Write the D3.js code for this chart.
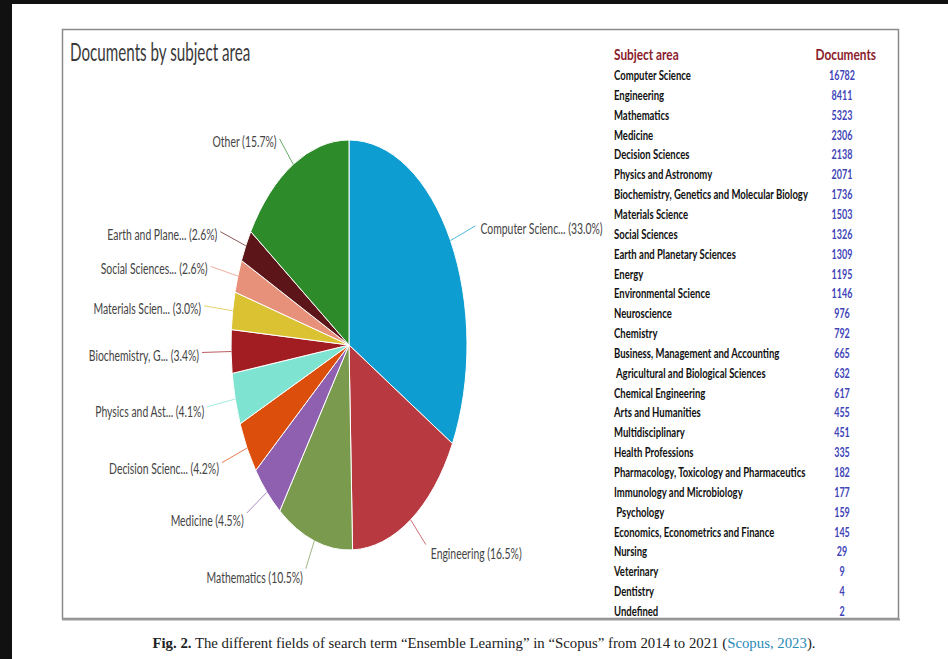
<!DOCTYPE html>
<html>
<head>
<meta charset="utf-8">
<script src="https://cdn.jsdelivr.net/npm/d3@7"></script>
<style>
  body { margin: 0; background: #fff; overflow: hidden; }
  svg { display: block; }
</style>
</head>
<body>
<div id="vis"></div>
<script>
// datos (Scopus, "Ensemble Learning")
const subjects = [
  "Computer Science", "Engineering", "Mathematics", "Medicine", "Decision Sciences",
  "Physics and Astronomy", "Biochemistry, Genetics and Molecular Biology", "Materials Science",
  "Social Sciences", "Earth and Planetary Sciences", "Energy", "Environmental Science",
  "Neuroscience", "Chemistry", "Business, Management and Accounting",
  " Agricultural and Biological Sciences", "Chemical Engineering", "Arts and Humanities",
  "Multidisciplinary", "Health Professions", "Pharmacology, Toxicology and Pharmaceutics",
  "Immunology and Microbiology", " Psychology", "Economics, Econometrics and Finance",
  "Nursing", "Veterinary", "Dentistry", "Undefined"
];
const documents = [
  16782, 8411, 5323, 2306, 2138, 2071, 1736, 1503, 1326, 1309, 1195, 1146, 976, 792,
  665, 632, 617, 455, 451, 335, 182, 177, 159, 145, 29, 9, 4, 2
];
const TOP_N = 10;
const pieLabels = [
  "Computer Scienc...", "Engineering", "Mathematics", "Medicine", "Decision Scienc...",
  "Physics and Ast...", "Biochemistry, G...", "Materials Scien...", "Social Sciences...",
  "Earth and Plane...", "Other"
];
const sliceColors = [
  "#0e9dd0", "#b83a40", "#7a9a4e", "#9060b0", "#db4e0b",
  "#7fe3d1", "#a11d22", "#dbc232", "#e8917a", "#5c1518", "#2e8b2a"
];

const WIDTH = 948;
const HEIGHT = 659;

const SVG = d3.select("#vis").append("svg")
  .attr("width", WIDTH).attr("height", HEIGHT);

SVG.append("rect").attr("width", WIDTH).attr("height", HEIGHT).attr("fill", "#fff");
SVG.append("rect").attr("x", 0).attr("y", 0).attr("width", WIDTH).attr("height", 4).attr("fill", "#111");
SVG.append("rect").attr("x", 0).attr("y", 0).attr("width", 12).attr("height", HEIGHT).attr("fill", "#111");

// marco
SVG.append("rect")
  .attr("x", 62.5).attr("y", 29.5).attr("width", 836).attr("height", 589)
  .attr("fill", "none").attr("stroke", "#8a8a8a").attr("stroke-width", 1.5);
SVG.append("line")
  .attr("x1", 62).attr("x2", 900).attr("y1", 619.5).attr("y2", 619.5)
  .attr("stroke", "#9a9a9a").attr("stroke-width", 2);

// la figura original esta comprimida en horizontal
function squeeze(sel, x, y, sx) {
  return sel.attr("transform", `translate(${x},${y}) scale(${sx},1)`);
}

const FONT = "Lato, 'Open Sans', sans-serif";

// titulo
squeeze(SVG.append("text"), 70, 61, 0.62)
  .attr("font-family", FONT).attr("font-size", 24.5).attr("fill", "#3a3a3a")
  .text("Documents by subject area");

// ---- tabla de la derecha ----
const escalaFila = d3.scalePoint()
  .domain(d3.range(subjects.length))
  .range([80, 616]);

squeeze(SVG.append("text"), 614, 60, 0.74)
  .attr("font-family", FONT).attr("font-size", 16).attr("font-weight", "bold")
  .attr("fill", "#8b1c2c").text("Subject area");
squeeze(SVG.append("text"), 876, 60, 0.74)
  .attr("font-family", FONT).attr("font-size", 16).attr("font-weight", "bold")
  .attr("text-anchor", "end").attr("fill", "#8b1c2c").text("Documents");

const filas = SVG.selectAll(".fila")
  .data(subjects.map((s, i) => ({ nombre: s, valor: documents[i], i: i })))
  .join("g").attr("class", "fila");

filas.append("text")
  .attr("transform", d => `translate(614,${escalaFila(d.i)}) scale(0.68,1)`)
  .attr("font-family", FONT).attr("font-size", 14).attr("font-weight", "bold")
  .attr("fill", "#111").style("white-space", "pre")
  .text(d => d.nombre);

filas.append("text")
  .attr("transform", d => `translate(842,${escalaFila(d.i)}) scale(0.64,1)`)
  .attr("font-family", FONT).attr("font-size", 14).attr("font-weight", "bold")
  .attr("text-anchor", "middle").attr("fill", "#3f45b8")
  .text(d => d.valor);

// ---- pastel ----
const total = d3.sum(documents);
const pieValues = documents.slice(0, TOP_N).concat([d3.sum(documents.slice(TOP_N))]);
const datosPie = pieValues.map((v, i) => ({ etiqueta: pieLabels[i], valor: v, color: sliceColors[i] }));

const CX = 349, CY = 345, RX = 118, RY = 205;
const pie = d3.pie().sort(null).value(d => d.valor);
const arcos = pie(datosPie);
const arco = d3.arc().innerRadius(0).outerRadius(RY);

const gPie = SVG.append("g")
  .attr("transform", `translate(${CX},${CY}) scale(${RX / RY},1)`);

gPie.selectAll("path")
  .data(arcos)
  .join("path")
  .attr("d", arco)
  .attr("fill", d => d.data.color)
  .attr("stroke", "#fff")
  .attr("stroke-width", 1)
  .attr("vector-effect", "non-scaling-stroke");

const formato = d3.format(".1%");
const LARGO = 29;

arcos.forEach(d => {
  const a = (d.startAngle + d.endAngle) / 2;
  const s = Math.sin(a), c = Math.cos(a);
  const x0 = CX + s * RX, y0 = CY - c * RY;
  const x1 = x0 + s * LARGO, y1 = y0 - c * LARGO;

  SVG.append("line")
    .attr("x1", x0).attr("y1", y0).attr("x2", x1).attr("y2", y1)
    .attr("stroke", d.data.color).attr("stroke-width", 0.9).attr("opacity", 0.8);

  const izquierda = s < 0;
  const t = SVG.append("text")
    .attr("font-family", FONT).attr("font-size", 16).attr("fill", "#444")
    .attr("text-anchor", izquierda ? "end" : "start")
    .text(`${d.data.etiqueta} (${formato(d.data.valor / total)})`);
  // en la mitad inferior las etiquetas quedan un poco mas abajo
  squeeze(t, izquierda ? x1 - 3 : x1 + 5, y1 + 8 + Math.max(0, -c) * 7, 0.65);
});

// pie de figura
const cap = SVG.append("text")
  .attr("x", 484).attr("y", 648)
  .attr("text-anchor", "middle")
  .attr("font-family", "'Liberation Serif', 'DejaVu Serif', serif")
  .attr("font-size", 14.8).attr("fill", "#222");
cap.append("tspan").attr("font-weight", "bold").text("Fig. 2.");
cap.append("tspan").text(" The different fields of search term \u201cEnsemble Learning\u201d in \u201cScopus\u201d from 2014 to 2021 (");
cap.append("tspan").attr("fill", "#2a8ab8").text("Scopus, 2023");
cap.append("tspan").text(").");
</script>
</body>
</html>
